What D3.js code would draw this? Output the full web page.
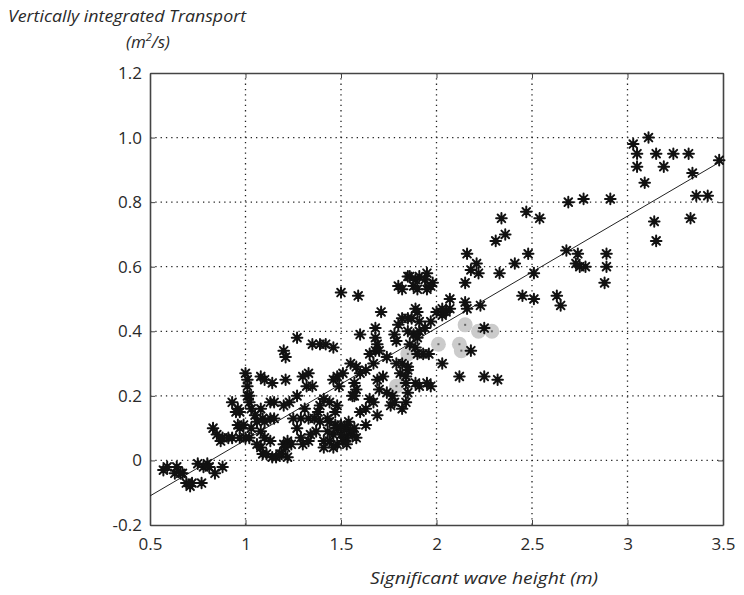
<!DOCTYPE html>
<html>
<head>
<meta charset="utf-8">
<script src="https://cdn.jsdelivr.net/npm/d3@7"></script>
<style>
  html, body { margin: 0; padding: 0; background: #fff; }
  svg text { font-family: "Open Sans", Lato, "DejaVu Sans", sans-serif; fill: #2a2a2a; }
</style>
</head>
<body>
<svg id="chart" width="744" height="595"></svg>
<script>
// Significant wave height (m) vs vertically integrated transport (m²/s)
const xTicks = [0.5, 1, 1.5, 2, 2.5, 3, 3.5];
const xTickLabels = ["0.5", "1", "1.5", "2", "2.5", "3", "3.5"];
const yTicks = [1.2, 1.0, 0.8, 0.6, 0.4, 0.2, 0, -0.2];
const yTickLabels = ["1.2", "1.0", "0.8", "0.6", "0.4", "0.2", "0", "-0.2"];

// Observations (asterisk markers)
const blackPoints = [
  [0.57,-0.03],[0.59,-0.02],[0.63,-0.04],[0.64,-0.02],[0.66,-0.04],[0.67,-0.04],[0.69,-0.07],[0.71,-0.08],
  [0.72,-0.07],[0.77,-0.07],[0.75,-0.01],[0.78,-0.02],[0.80,-0.01],[0.81,-0.02],[0.84,-0.04],[0.88,-0.02],
  [0.83,0.10],[0.85,0.08],[0.87,0.06],[0.88,0.07],[0.91,0.07],[0.93,0.07],[0.97,0.07],[1.00,0.07],[1.02,0.07],
  [0.93,0.18],[0.96,0.16],[0.97,0.15],[0.95,0.15],[1.00,0.27],[1.01,0.25],[1.01,0.23],[1.02,0.20],[1.01,0.20],
  [1.02,0.18],[1.03,0.16],[1.05,0.14],[1.08,0.16],[1.09,0.13],[1.08,0.26],[1.10,0.25],[1.14,0.24],[1.13,0.18],
  [1.15,0.18],[0.96,0.11],[0.97,0.10],[0.99,0.11],[1.03,0.10],[1.06,0.12],[1.10,0.12],[1.13,0.13],[1.15,0.13],
  [1.08,0.09],[1.10,0.07],[1.13,0.06],[1.06,0.05],[1.08,0.04],[1.09,0.02],[1.11,0.02],[1.14,0.01],[1.16,0.01],
  [1.19,0.02],[1.20,0.05],
  [1.27,0.38],[1.60,0.39],[1.68,0.38],[1.69,0.36],[1.68,0.34],[1.78,0.39],[1.79,0.37],[1.35,0.36],[1.39,0.36],
  [1.42,0.36],[1.46,0.35],[1.20,0.34],[1.21,0.32],[1.70,0.34],[1.74,0.32],[1.67,0.30],[1.65,0.33],[1.55,0.30],
  [1.58,0.29],[1.60,0.27],[1.51,0.27],[1.48,0.26],[1.46,0.25],[1.49,0.23],[1.63,0.28],[1.33,0.27],[1.30,0.26],
  [1.32,0.23],[1.35,0.23],[1.21,0.25],[1.57,0.24],[1.58,0.22],[1.57,0.20],[1.56,0.20],[1.69,0.25],[1.72,0.26],
  [1.70,0.22],[1.74,0.21],[1.77,0.20],[1.79,0.30],[1.82,0.30],[1.85,0.29],[1.81,0.27],[1.84,0.24],[1.65,0.19],
  [1.67,0.18],[1.85,0.21],[1.84,0.18],[1.82,0.16],[1.27,0.20],[1.23,0.18],[1.20,0.17],[1.41,0.19],[1.44,0.18],
  [1.48,0.17],[1.47,0.15],[1.39,0.17],[1.38,0.15],[1.36,0.13],[1.31,0.16],[1.33,0.13],[1.29,0.13],[1.25,0.13],
  [1.27,0.10],[1.76,0.17],[1.78,0.18],[1.60,0.15],[1.63,0.16],[1.69,0.14],[1.43,0.13],[1.44,0.12],[1.47,0.11],
  [1.48,0.10],[1.46,0.08],[1.43,0.09],[1.53,0.10],[1.55,0.09],[1.56,0.08],[1.57,0.10],[1.53,0.07],[1.63,0.11],
  [1.37,0.09],[1.34,0.08],[1.33,0.06],[1.30,0.05],[1.29,0.07],[1.41,0.06],[1.44,0.06],[1.48,0.05],[1.51,0.06],
  [1.53,0.05],[1.58,0.07],[1.22,0.06],[1.24,0.05],[1.21,0.04],[1.18,0.02],[1.41,0.04],[1.46,0.04],[1.22,0.01],
  [1.39,0.12],[1.50,0.08],[1.52,0.10],[1.54,0.12],[1.50,0.11],
  [1.50,0.52],[1.59,0.51],[1.71,0.46],[1.80,0.54],[1.82,0.53],[1.85,0.57],[1.68,0.41],[1.80,0.42],[1.82,0.44],
  [1.85,0.44],[1.85,0.40],
  [2.34,0.75],[2.47,0.77],[2.36,0.70],[2.31,0.68],[2.16,0.64],[2.48,0.64],[2.21,0.61],[2.18,0.59],[2.22,0.58],
  [2.41,0.61],[2.33,0.58],[2.15,0.55],[2.51,0.58],[2.45,0.51],[2.51,0.50],[2.07,0.50],[2.15,0.49],[2.16,0.47],
  [2.23,0.48],[1.86,0.57],[1.89,0.56],[1.91,0.57],[1.95,0.58],[1.94,0.56],[1.98,0.55],[1.97,0.54],[1.88,0.54],
  [1.90,0.53],[1.95,0.53],[1.89,0.47],[1.90,0.46],[1.87,0.44],[1.91,0.43],[2.00,0.46],[2.03,0.45],[2.05,0.46],
  [2.07,0.47],[2.03,0.47],[1.97,0.43],[1.94,0.41],[1.91,0.40],[1.88,0.39],[1.90,0.38],[1.86,0.36],[1.89,0.35],
  [1.90,0.33],[1.93,0.33],[1.96,0.33],[1.85,0.28],[1.84,0.26],[2.03,0.30],[2.18,0.34],[2.25,0.41],[2.12,0.26],
  [2.25,0.26],[2.32,0.25],[1.89,0.24],[1.91,0.23],[1.95,0.24],[1.97,0.23],
  [3.03,0.98],[3.11,1.00],[3.05,0.95],[3.15,0.95],[3.24,0.95],[3.32,0.95],[3.05,0.91],[3.19,0.91],[3.34,0.89],
  [3.48,0.93],[3.09,0.86],[3.36,0.82],[3.42,0.82],[2.69,0.80],[2.77,0.81],[2.91,0.81],[2.54,0.75],[3.33,0.75],
  [3.14,0.74],[3.15,0.68],[2.68,0.65],[2.74,0.64],[2.89,0.64],[2.73,0.61],[2.75,0.60],[2.78,0.60],[2.89,0.60],
  [2.88,0.55],[2.63,0.51],[2.65,0.48]
];

// Highlighted observations (grey filled circles)
const grayPoints = [
  [1.79,0.23],[1.85,0.33],[2.01,0.36],[2.12,0.36],[2.13,0.34],[2.15,0.42],[2.22,0.40],[2.29,0.40]
];

// Linear fit end points
const fitLine = [[0.5,-0.11],[3.5,0.93]];

const svg = d3.select("#chart");
const plot = { left: 150, right: 723, top: 73, bottom: 525 };

const x = d3.scaleLinear().domain([0.5, 3.5]).range([plot.left, plot.right]);
const y = d3.scaleLinear().domain([-0.2, 1.2]).range([plot.bottom, plot.top]);

// Dotted grid
const grid = svg.append("g").attr("stroke", "#222").attr("stroke-width", 1.3)
  .attr("stroke-dasharray", "1.3,4");
grid.selectAll("line.gx").data(xTicks.slice(1, -1)).join("line")
  .attr("x1", d => x(d)).attr("x2", d => x(d))
  .attr("y1", plot.top).attr("y2", plot.bottom);
grid.selectAll("line.gy").data(yTicks.slice(1, -1)).join("line")
  .attr("y1", d => y(d)).attr("y2", d => y(d))
  .attr("x1", plot.left).attr("x2", plot.right);

// Axes with inward ticks
const tickFmtX = (d, i) => xTickLabels[i];
const tickFmtY = (d, i) => yTickLabels[i];

const gx = svg.append("g").attr("transform", `translate(0,${plot.bottom})`)
  .call(d3.axisBottom(x).tickValues(xTicks).tickFormat(tickFmtX).tickSizeInner(-5).tickSizeOuter(0).tickPadding(13));
const gy = svg.append("g").attr("transform", `translate(${plot.left},0)`)
  .call(d3.axisLeft(y).tickValues(yTicks).tickFormat(tickFmtY).tickSizeInner(-5).tickSizeOuter(0).tickPadding(8));
const gt = svg.append("g").attr("transform", `translate(0,${plot.top})`)
  .call(d3.axisTop(x).tickValues(xTicks).tickFormat("").tickSizeInner(-5).tickSizeOuter(0));
const gr = svg.append("g").attr("transform", `translate(${plot.right},0)`)
  .call(d3.axisRight(y).tickValues(yTicks).tickFormat("").tickSizeInner(-5).tickSizeOuter(0));

[gx, gy, gt, gr].forEach(g => {
  g.select(".domain").attr("stroke", "#444").attr("stroke-width", 1.6);
  g.selectAll(".tick line").attr("stroke", "#444").attr("stroke-width", 1);
  g.selectAll(".tick text").attr("font-size", 17).attr("fill", "#2a2a2a")
    .style("font-family", "'Open Sans', Lato, sans-serif");
});

// Fit line
svg.append("path")
  .datum(fitLine)
  .attr("fill", "none").attr("stroke", "#222").attr("stroke-width", 1)
  .attr("d", d3.line().x(d => x(d[0])).y(d => y(d[1])));

// Grey circles
const gGray = svg.append("g");
gGray.selectAll("circle").data(grayPoints).join("circle")
  .attr("cx", d => x(d[0])).attr("cy", d => y(d[1])).attr("r", 7.5)
  .attr("fill", "#cbcbcb");
gGray.selectAll("rect").data(grayPoints).join("rect")
  .attr("x", d => x(d[0]) - 1).attr("y", d => y(d[1]) - 1)
  .attr("width", 2).attr("height", 2).attr("fill", "#666");

// Asterisk markers
const r = 5.3, rd = r * 0.72;
const star = `M${-r},0L${r},0M0,${-r}L0,${r}M${-rd},${-rd}L${rd},${rd}M${-rd},${rd}L${rd},${-rd}`;
svg.append("g").selectAll("path").data(blackPoints).join("path")
  .attr("transform", d => `translate(${x(d[0])},${y(d[1])})`)
  .attr("d", star)
  .attr("fill", "none").attr("stroke", "#111").attr("stroke-width", 2)
  .attr("stroke-linecap", "round");

// Titles
svg.append("text").attr("x", 8).attr("y", 22)
  .attr("font-size", 16).attr("font-style", "italic")
  .attr("textLength", 238).attr("lengthAdjust", "spacingAndGlyphs")
  .text("Vertically integrated Transport");
const unit = svg.append("text").attr("x", 148).attr("y", 48)
  .attr("text-anchor", "middle").attr("font-size", 17).attr("font-style", "italic");
unit.append("tspan").text("(m");
unit.append("tspan").attr("font-size", 11).attr("dy", -7).text("2");
unit.append("tspan").attr("dy", 7).text("/s)");

svg.append("text").attr("x", 484).attr("y", 584)
  .attr("text-anchor", "middle").attr("font-size", 16).attr("font-style", "italic")
  .attr("textLength", 228).attr("lengthAdjust", "spacingAndGlyphs")
  .text("Significant wave height (m)");
</script>
</body>
</html>
